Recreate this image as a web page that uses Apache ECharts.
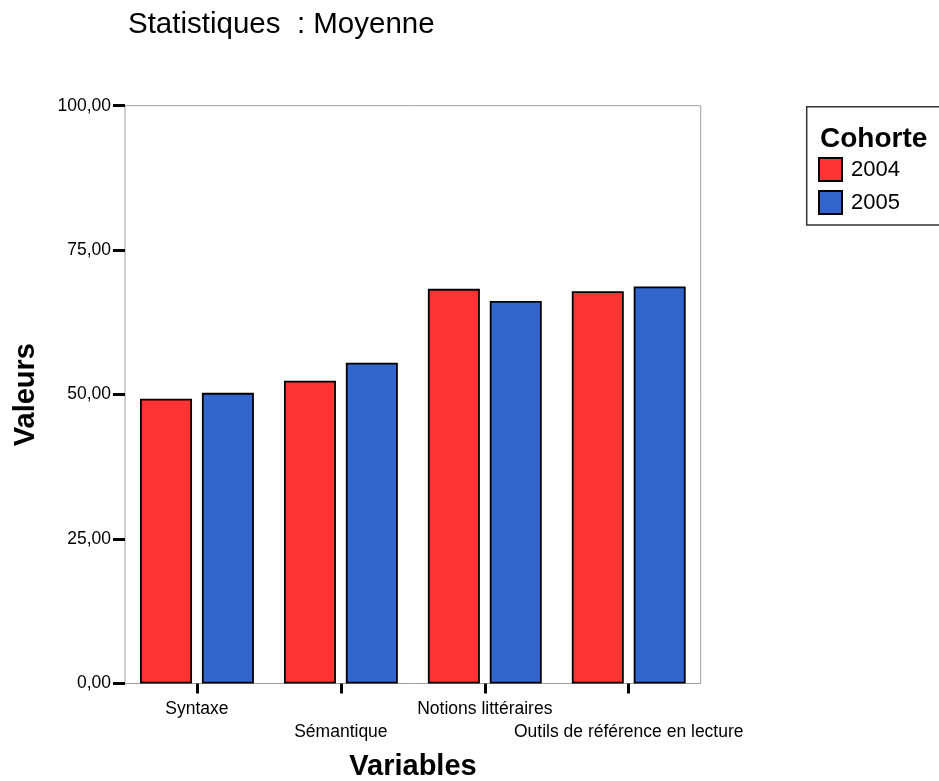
<!DOCTYPE html>
<html>
<head>
<meta charset="utf-8">
<script src="https://cdn.jsdelivr.net/npm/echarts@6/dist/echarts.min.js"></script>
<style>
html,body{margin:0;padding:0;background:#fff;}
#chart{width:939px;height:781px;}
</style>
</head>
<body>
<div id="chart"></div>
<script>
const categories = ['Syntaxe', 'Sémantique', 'Notions littéraires', 'Outils de référence en lecture'];
const values2004 = [49.3, 52.4, 68.3, 67.9];
const values2005 = [50.3, 55.5, 66.2, 68.7];
const seriesNames = ['2004', '2005'];
const yMin = 0, yMax = 100, yStep = 25;

const FONT = "'Liberation Sans', Arial, sans-serif";
const chart = echarts.init(document.getElementById('chart'));
chart.setOption({
  backgroundColor: '#fff',
  animation: false,
  textStyle: { fontFamily: FONT },
  grid: {
    left: 125, right: 238.3, top: 105.7, bottom: 97.5,
    show: true, borderColor: '#a0a0a0', borderWidth: 1, backgroundColor: 'transparent'
  },
  xAxis: {
    type: 'category',
    data: categories,
    axisLine: { show: false },
    axisTick: { show: true, alignWithLabel: true, length: 10, lineStyle: { color: '#000', width: 3 } },
    axisLabel: {
      interval: 0, margin: 14, fontSize: 17.5, color: '#000', fontFamily: FONT, lineHeight: 23,
      formatter: function (v, i) { return i % 2 === 1 ? '\n' + v : v; }
    },
    splitLine: { show: false }
  },
  yAxis: {
    type: 'value', min: yMin, max: yMax, interval: yStep,
    axisLine: { show: false },
    axisTick: { show: true, length: 12, lineStyle: { color: '#000', width: 3 } },
    axisLabel: {
      margin: 14, fontSize: 17.5, color: '#000', fontFamily: FONT,
      formatter: function (v) { return v.toFixed(2).replace('.', ','); }
    },
    splitLine: { show: false }
  },
  legend: {
    data: seriesNames,
    orient: 'vertical',
    left: 818, top: 157,
    padding: 0,
    itemWidth: 23, itemHeight: 23, itemGap: 8,
    icon: 'rect',
    textStyle: { fontSize: 22, color: '#000', fontFamily: FONT, padding: [0, 0, 0, 4] }
  },
  graphic: [
    { type: 'rect', shape: { x: 806.7, y: 106.7, width: 300, height: 118.3 },
      style: { fill: 'transparent', stroke: '#333', lineWidth: 1.5 }, silent: true },
    { type: 'text', x: 820, y: 139, style: { text: 'Cohorte', font: "bold 28px " + FONT, fill: '#000', textAlign: 'left', textVerticalAlign: 'middle' } },
    { type: 'text', x: 128, y: 25, style: { text: 'Statistiques  : Moyenne', font: "29.5px " + FONT, fill: '#000', textAlign: 'left', textVerticalAlign: 'middle' } },
    { type: 'text', x: 413, y: 767, style: { text: 'Variables', font: "bold 29px " + FONT, fill: '#000', textAlign: 'center', textVerticalAlign: 'middle' } },
    { type: 'text', x: 26, y: 394.6, rotation: Math.PI / 2, style: { text: 'Valeurs', font: "bold 29px " + FONT, fill: '#000', textAlign: 'center', textVerticalAlign: 'middle' } }
  ],
  series: [
    { name: seriesNames[0], type: 'bar', data: values2004, barWidth: 52, barGap: '19%',
      itemStyle: { color: '#FF3333', borderColor: '#000', borderWidth: 1.8 } },
    { name: seriesNames[1], type: 'bar', data: values2005, barWidth: 52, barGap: '19%',
      itemStyle: { color: '#3366CC', borderColor: '#000', borderWidth: 1.8 } }
  ]
});
</script>
</body>
</html>
